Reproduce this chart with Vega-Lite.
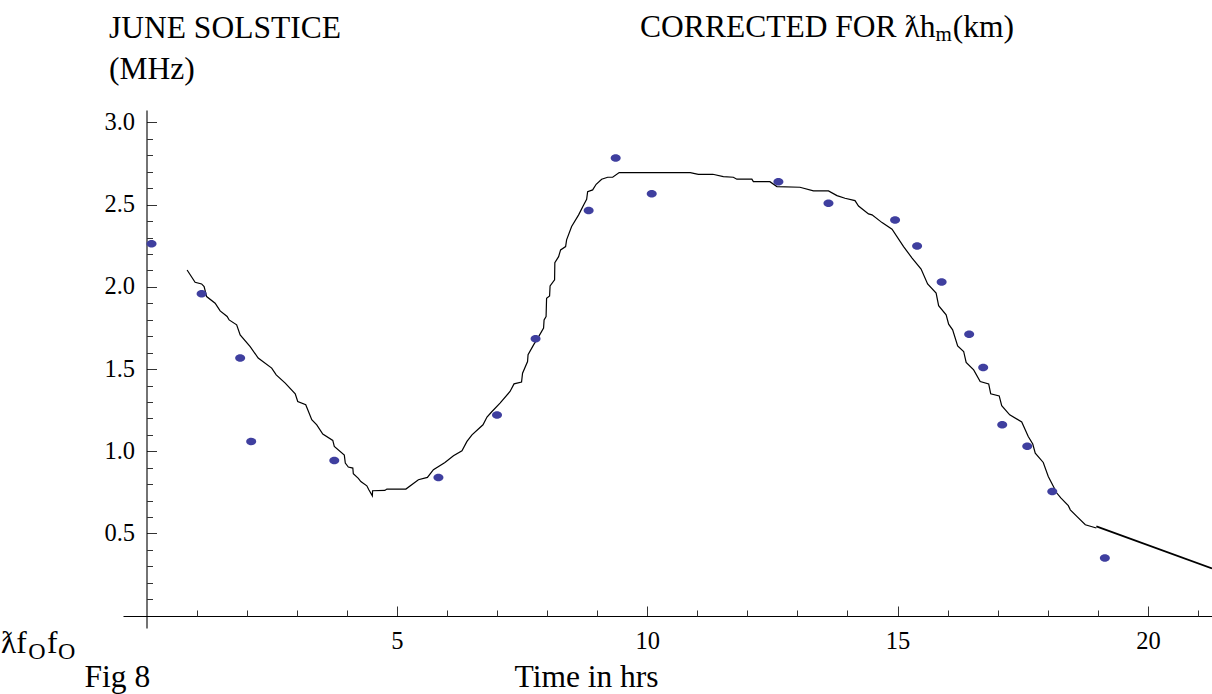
{
  "$schema": "https://vega.github.io/schema/vega-lite/v6.json",
  "width": 1089,
  "height": 518,
  "autosize": {"type": "none"},
  "padding": {"left": 123, "top": 110, "right": 0, "bottom": 66},
  "background": "white",
  "config": {
    "view": {"stroke": null},
    "font": "Liberation Serif",
    "axis": {
      "grid": false,
      "labelFont": "Liberation Serif",
      "titleFont": "Liberation Serif",
      "labelColor": "#000",
      "titleColor": "#000",
      "titleFontWeight": "normal",
      "labelFontSize": 24.5,
      "titleFontSize": 31.5,
      "domainColor": "#000",
      "domainWidth": 1.1,
      "tickColor": "#333",
      "tickWidth": 1,
      "labelOverlap": false,
      "labelFlush": false
    }
  },
  "datasets": {
    "curve": [
      {"series": "fit", "t": 0.81, "f": 2.103}, {"series": "fit", "t": 0.97, "f": 2.028}, {"series": "fit", "t": 1.10, "f": 2.018}, {"series": "fit", "t": 1.15, "f": 2.002},
      {"series": "fit", "t": 1.20, "f": 1.941}, {"series": "fit", "t": 1.37, "f": 1.901}, {"series": "fit", "t": 1.47, "f": 1.854}, {"series": "fit", "t": 1.61, "f": 1.820},
      {"series": "fit", "t": 1.65, "f": 1.799}, {"series": "fit", "t": 1.80, "f": 1.769}, {"series": "fit", "t": 1.87, "f": 1.708}, {"series": "fit", "t": 2.07, "f": 1.637},
      {"series": "fit", "t": 2.23, "f": 1.567}, {"series": "fit", "t": 2.50, "f": 1.506}, {"series": "fit", "t": 2.59, "f": 1.465}, {"series": "fit", "t": 2.77, "f": 1.415},
      {"series": "fit", "t": 2.97, "f": 1.350}, {"series": "fit", "t": 3.02, "f": 1.303}, {"series": "fit", "t": 3.18, "f": 1.283}, {"series": "fit", "t": 3.30, "f": 1.192},
      {"series": "fit", "t": 3.40, "f": 1.161}, {"series": "fit", "t": 3.52, "f": 1.105}, {"series": "fit", "t": 3.72, "f": 1.066}, {"series": "fit", "t": 3.75, "f": 1.029},
      {"series": "fit", "t": 3.95, "f": 0.977}, {"series": "fit", "t": 3.97, "f": 0.928}, {"series": "fit", "t": 4.03, "f": 0.904}, {"series": "fit", "t": 4.12, "f": 0.898},
      {"series": "fit", "t": 4.13, "f": 0.863}, {"series": "fit", "t": 4.23, "f": 0.835}, {"series": "fit", "t": 4.28, "f": 0.816}, {"series": "fit", "t": 4.40, "f": 0.790},
      {"series": "fit", "t": 4.44, "f": 0.766}, {"series": "fit", "t": 4.51, "f": 0.729}, {"series": "fit", "t": 4.515, "f": 0.760}, {"series": "fit", "t": 4.76, "f": 0.762},
      {"series": "fit", "t": 4.80, "f": 0.770}, {"series": "fit", "t": 5.18, "f": 0.770}, {"series": "fit", "t": 5.43, "f": 0.827}, {"series": "fit", "t": 5.61, "f": 0.841},
      {"series": "fit", "t": 5.73, "f": 0.888}, {"series": "fit", "t": 5.96, "f": 0.932}, {"series": "fit", "t": 6.13, "f": 0.973}, {"series": "fit", "t": 6.30, "f": 1.003},
      {"series": "fit", "t": 6.40, "f": 1.060}, {"series": "fit", "t": 6.50, "f": 1.100}, {"series": "fit", "t": 6.72, "f": 1.161}, {"series": "fit", "t": 6.80, "f": 1.208},
      {"series": "fit", "t": 6.90, "f": 1.242}, {"series": "fit", "t": 7.06, "f": 1.293}, {"series": "fit", "t": 7.26, "f": 1.364}, {"series": "fit", "t": 7.34, "f": 1.410},
      {"series": "fit", "t": 7.49, "f": 1.421}, {"series": "fit", "t": 7.51, "f": 1.475}, {"series": "fit", "t": 7.61, "f": 1.546}, {"series": "fit", "t": 7.62, "f": 1.587},
      {"series": "fit", "t": 7.73, "f": 1.647}, {"series": "fit", "t": 7.84, "f": 1.702}, {"series": "fit", "t": 7.93, "f": 1.749}, {"series": "fit", "t": 7.94, "f": 1.799},
      {"series": "fit", "t": 7.98, "f": 1.820}, {"series": "fit", "t": 7.99, "f": 1.931}, {"series": "fit", "t": 8.05, "f": 1.945}, {"series": "fit", "t": 8.06, "f": 2.006},
      {"series": "fit", "t": 8.15, "f": 2.043}, {"series": "fit", "t": 8.155, "f": 2.148}, {"series": "fit", "t": 8.23, "f": 2.184}, {"series": "fit", "t": 8.27, "f": 2.225},
      {"series": "fit", "t": 8.37, "f": 2.245}, {"series": "fit", "t": 8.39, "f": 2.286}, {"series": "fit", "t": 8.49, "f": 2.367}, {"series": "fit", "t": 8.63, "f": 2.438},
      {"series": "fit", "t": 8.73, "f": 2.498}, {"series": "fit", "t": 8.79, "f": 2.533}, {"series": "fit", "t": 8.81, "f": 2.579}, {"series": "fit", "t": 8.91, "f": 2.590},
      {"series": "fit", "t": 8.98, "f": 2.624}, {"series": "fit", "t": 9.09, "f": 2.655}, {"series": "fit", "t": 9.21, "f": 2.667}, {"series": "fit", "t": 9.31, "f": 2.667},
      {"series": "fit", "t": 9.44, "f": 2.695}, {"series": "fit", "t": 10.86, "f": 2.695}, {"series": "fit", "t": 11.02, "f": 2.685}, {"series": "fit", "t": 11.31, "f": 2.685},
      {"series": "fit", "t": 11.52, "f": 2.671}, {"series": "fit", "t": 11.72, "f": 2.667}, {"series": "fit", "t": 11.79, "f": 2.655}, {"series": "fit", "t": 12.09, "f": 2.655},
      {"series": "fit", "t": 12.12, "f": 2.640}, {"series": "fit", "t": 12.45, "f": 2.640}, {"series": "fit", "t": 12.59, "f": 2.610}, {"series": "fit", "t": 13.05, "f": 2.606},
      {"series": "fit", "t": 13.32, "f": 2.584}, {"series": "fit", "t": 13.62, "f": 2.584}, {"series": "fit", "t": 13.79, "f": 2.555}, {"series": "fit", "t": 13.95, "f": 2.539},
      {"series": "fit", "t": 14.15, "f": 2.525}, {"series": "fit", "t": 14.22, "f": 2.492}, {"series": "fit", "t": 14.42, "f": 2.444}, {"series": "fit", "t": 14.49, "f": 2.438},
      {"series": "fit", "t": 14.69, "f": 2.391}, {"series": "fit", "t": 14.89, "f": 2.351}, {"series": "fit", "t": 15.12, "f": 2.245}, {"series": "fit", "t": 15.29, "f": 2.175},
      {"series": "fit", "t": 15.47, "f": 2.108}, {"series": "fit", "t": 15.60, "f": 2.018}, {"series": "fit", "t": 15.77, "f": 1.962}, {"series": "fit", "t": 15.82, "f": 1.886},
      {"series": "fit", "t": 15.97, "f": 1.830}, {"series": "fit", "t": 16.02, "f": 1.773}, {"series": "fit", "t": 16.10, "f": 1.739}, {"series": "fit", "t": 16.20, "f": 1.641},
      {"series": "fit", "t": 16.32, "f": 1.607}, {"series": "fit", "t": 16.37, "f": 1.540}, {"series": "fit", "t": 16.52, "f": 1.495}, {"series": "fit", "t": 16.65, "f": 1.424},
      {"series": "fit", "t": 16.82, "f": 1.410}, {"series": "fit", "t": 16.86, "f": 1.350}, {"series": "fit", "t": 17.03, "f": 1.337}, {"series": "fit", "t": 17.08, "f": 1.277},
      {"series": "fit", "t": 17.24, "f": 1.222}, {"series": "fit", "t": 17.48, "f": 1.178}, {"series": "fit", "t": 17.61, "f": 1.090}, {"series": "fit", "t": 17.70, "f": 1.044},
      {"series": "fit", "t": 17.75, "f": 0.989}, {"series": "fit", "t": 17.91, "f": 0.932}, {"series": "fit", "t": 18.01, "f": 0.847}, {"series": "fit", "t": 18.18, "f": 0.746},
      {"series": "fit", "t": 18.26, "f": 0.716}, {"series": "fit", "t": 18.41, "f": 0.669}, {"series": "fit", "t": 18.45, "f": 0.644}, {"series": "fit", "t": 18.58, "f": 0.604},
      {"series": "fit", "t": 18.75, "f": 0.553}, {"series": "fit", "t": 18.97, "f": 0.533},
      {"series": "tail", "t": 18.97, "f": 0.543}, {"series": "tail", "t": 21.28, "f": 0.287}
    ],
    "obs": [
      {"t": 0.10, "f": 2.263}, {"t": 1.10, "f": 1.959}, {"t": 1.87, "f": 1.567}, {"t": 2.09, "f": 1.060},
      {"t": 3.75, "f": 0.944}, {"t": 5.83, "f": 0.841}, {"t": 7.00, "f": 1.220}, {"t": 7.77, "f": 1.684},
      {"t": 8.83, "f": 2.464}, {"t": 9.37, "f": 2.784}, {"t": 10.09, "f": 2.567}, {"t": 12.62, "f": 2.640},
      {"t": 13.62, "f": 2.509}, {"t": 14.95, "f": 2.407}, {"t": 15.39, "f": 2.249}, {"t": 15.88, "f": 2.030},
      {"t": 16.43, "f": 1.712}, {"t": 16.71, "f": 1.510}, {"t": 17.09, "f": 1.161}, {"t": 17.59, "f": 1.031},
      {"t": 18.09, "f": 0.756}, {"t": 19.14, "f": 0.351}
    ],
    "notes": [
      {"part": "corr", "label": "CORRECTED FOR ƛh"},
      {"part": "corr_sub", "label": "m"},
      {"part": "corr_end", "label": "(km)"},
      {"part": "q1", "label": "ƛf"},
      {"part": "q1_sub", "label": "O"},
      {"part": "q2", "label": "f"},
      {"part": "q2_sub", "label": "O"}
    ]
  },
  "resolve": {"axis": {"x": "independent", "y": "independent"}},
  "layer": [
    {
      "data": {"name": "curve"},
      "mark": {"type": "line", "color": "#000", "interpolate": "linear"},
      "encoding": {
        "x": {
          "field": "t", "type": "quantitative",
          "scale": {"domain": [-0.47, 21.28], "nice": false, "zero": false},
          "axis": {
            "orient": "bottom", "offset": -12,
            "values": [5, 10, 15, 20], "format": "d",
            "tickSize": -10, "labelPadding": 23,
            "title": "Time in hrs", "titleX": 391, "titleY": 70,
            "titleAlign": "left", "titleBaseline": "alphabetic", "titleAngle": 0
          }
        },
        "y": {
          "field": "f", "type": "quantitative",
          "scale": {"domain": [-0.075, 3.076], "nice": false, "zero": false},
          "axis": {
            "orient": "left", "offset": -23.5,
            "values": [0.5, 1.0, 1.5, 2.0, 2.5, 3.0], "format": ".1f",
            "tickSize": -10, "labelPadding": 22,
            "title": "(MHz)", "titleX": -38, "titleY": -32,
            "titleAlign": "left", "titleBaseline": "alphabetic", "titleAngle": 0
          }
        },
        "detail": {"field": "series", "type": "nominal"},
        "strokeWidth": {"field": "series", "type": "nominal", "scale": {"domain": ["fit", "tail"], "range": [1.2, 1.8]}, "legend": null}
      }
    },
    {
      "data": {"name": "obs"},
      "mark": {"type": "point", "filled": true, "shape": "M-1,0A1,0.75,0,1,1,1,0A1,0.75,0,1,1,-1,0Z", "size": 100, "color": "#3f3f9f", "opacity": 1},
      "encoding": {
        "x": {
          "field": "t", "type": "quantitative",
          "axis": {
            "orient": "bottom", "offset": -12,
            "values": [1, 2, 3, 4, 6, 7, 8, 9, 11, 12, 13, 14, 16, 17, 18, 19, 21],
            "labels": false, "domain": false, "tickSize": -6,
            "title": "Fig 8", "titleX": -39, "titleY": 70,
            "titleAlign": "left", "titleBaseline": "alphabetic", "titleAngle": 0
          }
        },
        "y": {
          "field": "f", "type": "quantitative",
          "axis": {
            "orient": "left", "offset": -23.5,
            "values": [0.1, 0.2, 0.3, 0.4, 0.6, 0.7, 0.8, 0.9, 1.1, 1.2, 1.3, 1.4, 1.6, 1.7, 1.8, 1.9, 2.1, 2.2, 2.3, 2.4, 2.6, 2.7, 2.8, 2.9],
            "labels": false, "domain": false, "tickSize": -6,
            "title": "JUNE SOLSTICE", "titleX": -38, "titleY": -73,
            "titleAlign": "left", "titleBaseline": "alphabetic", "titleAngle": 0
          }
        }
      }
    },
    {
      "data": {"name": "notes"},
      "transform": [{"filter": "datum.part === 'corr'"}],
      "mark": {"type": "text", "align": "left", "baseline": "alphabetic", "fontSize": 31.5, "font": "Liberation Serif", "color": "#000"},
      "encoding": {
        "text": {"field": "label", "type": "nominal"},
        "x": {"datum": 9.858, "type": "quantitative", "axis": null},
        "y": {"datum": 3.52, "type": "quantitative", "axis": null}
      }
    },
    {
      "data": {"name": "notes"},
      "transform": [{"filter": "datum.part === 'corr_sub'"}],
      "mark": {"type": "text", "align": "left", "baseline": "alphabetic", "fontSize": 21, "font": "Liberation Serif", "color": "#000"},
      "encoding": {
        "text": {"field": "label", "type": "nominal"},
        "x": {"datum": 15.76, "type": "quantitative", "axis": null},
        "y": {"datum": 3.493, "type": "quantitative", "axis": null}
      }
    },
    {
      "data": {"name": "notes"},
      "transform": [{"filter": "datum.part === 'corr_end'"}],
      "mark": {"type": "text", "align": "left", "baseline": "alphabetic", "fontSize": 31.5, "font": "Liberation Serif", "color": "#000"},
      "encoding": {
        "text": {"field": "label", "type": "nominal"},
        "x": {"datum": 16.1, "type": "quantitative", "axis": null},
        "y": {"datum": 3.52, "type": "quantitative", "axis": null}
      }
    },
    {
      "data": {"name": "notes"},
      "transform": [{"filter": "datum.part === 'q1'"}],
      "mark": {"type": "text", "align": "left", "baseline": "alphabetic", "fontSize": 31.5, "font": "Liberation Serif", "color": "#000"},
      "encoding": {
        "text": {"field": "label", "type": "nominal"},
        "x": {"datum": -2.907, "type": "quantitative", "axis": null},
        "y": {"datum": -0.225, "type": "quantitative", "axis": null}
      }
    },
    {
      "data": {"name": "notes"},
      "transform": [{"filter": "datum.part === 'q1_sub'"}],
      "mark": {"type": "text", "align": "left", "baseline": "alphabetic", "fontSize": 24, "font": "Liberation Serif", "color": "#000"},
      "encoding": {
        "text": {"field": "label", "type": "nominal"},
        "x": {"datum": -2.36, "type": "quantitative", "axis": null},
        "y": {"datum": -0.265, "type": "quantitative", "axis": null}
      }
    },
    {
      "data": {"name": "notes"},
      "transform": [{"filter": "datum.part === 'q2'"}],
      "mark": {"type": "text", "align": "left", "baseline": "alphabetic", "fontSize": 31.5, "font": "Liberation Serif", "color": "#000"},
      "encoding": {
        "text": {"field": "label", "type": "nominal"},
        "x": {"datum": -1.99, "type": "quantitative", "axis": null},
        "y": {"datum": -0.225, "type": "quantitative", "axis": null}
      }
    },
    {
      "data": {"name": "notes"},
      "transform": [{"filter": "datum.part === 'q2_sub'"}],
      "mark": {"type": "text", "align": "left", "baseline": "alphabetic", "fontSize": 24, "font": "Liberation Serif", "color": "#000"},
      "encoding": {
        "text": {"field": "label", "type": "nominal"},
        "x": {"datum": -1.77, "type": "quantitative", "axis": null},
        "y": {"datum": -0.265, "type": "quantitative", "axis": null}
      }
    }
  ]
}
